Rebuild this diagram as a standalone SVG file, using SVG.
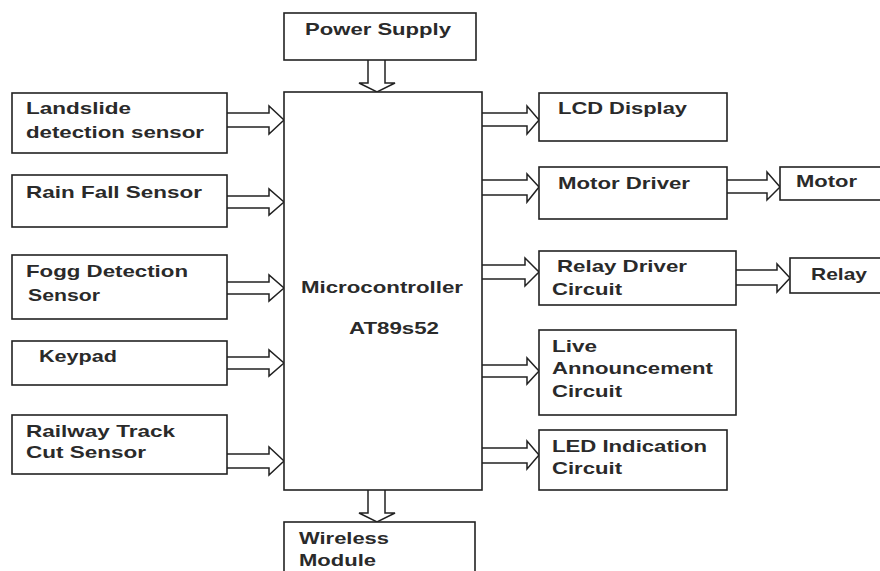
<svg xmlns="http://www.w3.org/2000/svg" width="880" height="571" viewBox="0 0 880 571">
<style>
.box{fill:#fff;stroke:#222;stroke-width:1.6}
.arr{fill:#fff;stroke:#222;stroke-width:1.5;stroke-linejoin:miter}
text{font-family:"Liberation Sans",Arial,sans-serif;font-weight:bold;font-size:17px;fill:#2a2a2a}
</style>
<rect width="880" height="571" fill="#fff"/>
<g id="connectors">
<path class="arr" d="M227,113 H269 V106 L284,120 L269,134 V127 H227"/>
<path class="arr" d="M227,196 H269 V189 L284,202 L269,215 V208 H227"/>
<path class="arr" d="M227,282 H269 V275 L284,288 L269,301 V294 H227"/>
<path class="arr" d="M227,357 H269 V350 L284,363 L269,376 V369 H227"/>
<path class="arr" d="M227,454 H269 V447 L284,461 L269,475 V468 H227"/>
<path class="arr" d="M482,113 H527 V106 L539,120 L527,134 V126 H482"/>
<path class="arr" d="M482,180 H527 V174 L539,187 L527,202 V195 H482"/>
<path class="arr" d="M482,265 H525 V258 L539,272 L525,286 V279 H482"/>
<path class="arr" d="M482,365 H527 V358 L539,371 L527,384 V377 H482"/>
<path class="arr" d="M482,448 H527 V441 L539,455 L527,469 V463 H482"/>
<path class="arr" d="M727,180 H767 V172 L780,187 L767,200 V193 H727"/>
<path class="arr" d="M736,270 H777 V264 L790,278 L777,292 V285 H736"/>
<path class="arr" d="M368,60 V83 H359 L377,92 L395,83 H385 V60"/>
<path class="arr" d="M368,490 V513 H359 L377,522 L395,513 H385 V490"/>
</g>
<g id="power"><rect class="box" x="284" y="13" width="192" height="47"/><text x="305" y="35" textLength="146" lengthAdjust="spacingAndGlyphs">Power Supply</text></g>
<g id="mcu"><rect class="box" x="284" y="92" width="198" height="398"/><text x="301" y="293" textLength="162" lengthAdjust="spacingAndGlyphs">Microcontroller</text><text x="349" y="334" textLength="90" lengthAdjust="spacingAndGlyphs">AT89s52</text></g>
<g id="wireless"><rect class="box" x="284" y="522" width="191" height="60"/><text x="299" y="544" textLength="90" lengthAdjust="spacingAndGlyphs">Wireless</text><text x="299" y="566" textLength="77" lengthAdjust="spacingAndGlyphs">Module</text></g>
<g id="landslide"><rect class="box" x="12" y="93" width="215" height="60"/><text x="26" y="114" textLength="105" lengthAdjust="spacingAndGlyphs">Landslide</text><text x="26" y="138" textLength="178" lengthAdjust="spacingAndGlyphs">detection sensor</text></g>
<g id="rain"><rect class="box" x="12" y="175" width="215" height="52"/><text x="26" y="198" textLength="176" lengthAdjust="spacingAndGlyphs">Rain Fall Sensor</text></g>
<g id="fogg"><rect class="box" x="12" y="255" width="215" height="64"/><text x="26" y="277" textLength="162" lengthAdjust="spacingAndGlyphs">Fogg Detection</text><text x="28" y="301" textLength="72" lengthAdjust="spacingAndGlyphs">Sensor</text></g>
<g id="keypad"><rect class="box" x="12" y="341" width="215" height="44"/><text x="39" y="362" textLength="78" lengthAdjust="spacingAndGlyphs">Keypad</text></g>
<g id="railway"><rect class="box" x="12" y="415" width="215" height="59"/><text x="26" y="437" textLength="149" lengthAdjust="spacingAndGlyphs">Railway Track</text><text x="26" y="458" textLength="120" lengthAdjust="spacingAndGlyphs">Cut Sensor</text></g>
<g id="lcd"><rect class="box" x="539" y="93" width="188" height="48"/><text x="558" y="114" textLength="129" lengthAdjust="spacingAndGlyphs">LCD Display</text></g>
<g id="motordriver"><rect class="box" x="539" y="167" width="188" height="52"/><text x="558" y="189" textLength="132" lengthAdjust="spacingAndGlyphs">Motor Driver</text></g>
<g id="motor"><rect class="box" x="780" y="167" width="105" height="33"/><text x="796" y="187" textLength="61" lengthAdjust="spacingAndGlyphs">Motor</text></g>
<g id="relaydriver"><rect class="box" x="539" y="251" width="197" height="54"/><text x="557" y="272" textLength="130" lengthAdjust="spacingAndGlyphs">Relay Driver</text><text x="552" y="295" textLength="70" lengthAdjust="spacingAndGlyphs">Circuit</text></g>
<g id="relay"><rect class="box" x="790" y="258" width="95" height="35"/><text x="811" y="280" textLength="56" lengthAdjust="spacingAndGlyphs">Relay</text></g>
<g id="live"><rect class="box" x="539" y="330" width="197" height="85"/><text x="552" y="352" textLength="45" lengthAdjust="spacingAndGlyphs">Live</text><text x="552" y="374" textLength="161" lengthAdjust="spacingAndGlyphs">Announcement</text><text x="552" y="397" textLength="70" lengthAdjust="spacingAndGlyphs">Circuit</text></g>
<g id="led"><rect class="box" x="539" y="430" width="188" height="60"/><text x="552" y="452" textLength="155" lengthAdjust="spacingAndGlyphs">LED Indication</text><text x="552" y="474" textLength="70" lengthAdjust="spacingAndGlyphs">Circuit</text></g>
</svg>
